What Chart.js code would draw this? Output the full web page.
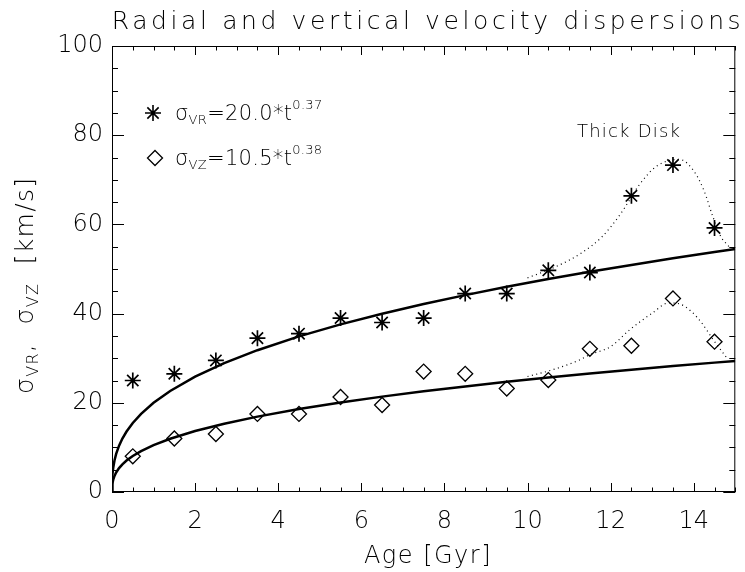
<!DOCTYPE html>
<html>
<head>
<meta charset="utf-8">
<script src="https://cdn.jsdelivr.net/npm/chart.js@4.4.0/dist/chart.umd.min.js"></script>
<style>
  html, body { margin: 0; padding: 0; background: #fff; }
  canvas { display: block; }
</style>
</head>
<body>
<canvas id="grafica" width="745" height="572"></canvas>
<script>
// edades (Gyr) de cada bin
const ages = [0.5, 1.5, 2.5, 3.5, 4.5, 5.5, 6.5, 7.5, 8.5, 9.5, 10.5, 11.5, 12.5, 13.5, 14.5];
const sigmaVR = [25, 26.5, 29.5, 34.5, 35.5, 39, 38, 39, 44.5, 44.5, 49.7, 49.2, 66.4, 73.3, 59.2];
const sigmaVZ = [8, 12, 13, 17.5, 17.5, 21.3, 19.5, 27, 26.5, 23.2, 25.1, 32.1, 32.8, 43.4, 33.7];

// curvas punteadas del disco grueso
const thickAgeVR = [10.0, 10.7, 11.3, 11.8, 12.25, 12.7, 13.1, 13.65, 14.0, 14.25, 14.45, 14.65, 14.85];
const thickVR = [48, 50.6, 53.6, 57.3, 62.5, 69, 73, 74.6, 72, 67.5, 62, 57.3, 55];
const thickAgeVZ = [10.0, 10.6, 11.25, 11.5, 12.0, 12.45, 13.0, 13.4, 13.65, 13.95, 14.2, 14.45, 14.8];
const thickVZ = [25.9, 27.4, 29.6, 30.8, 32.6, 36.3, 40.1, 42.4, 42.2, 40.4, 37.8, 34.4, 30];

// ajustes sigma = A * t^b
const fitAmp = [20.0, 10.5];
const fitExp = [0.37, 0.38];
const fitAges = [0, 0.002, 0.01, 0.03, 0.06, 0.1, 0.17, 0.25, 0.35, 0.5, 0.7, 1, 1.4, 2, 2.7, 3.5, 4.5, 5.5, 6.5, 7.5, 8.5, 9.5, 10.5, 11.5, 12.5, 13.5, 14.5, 15];

const xTicks = [0, 2, 4, 6, 8, 10, 12, 14];
const yTicks = [0, 20, 40, 60, 80, 100];
const xMinorStep = 0.5;
const yMinorStep = 5;

const FAM = '"DejaVu Sans", sans-serif';
const W = 200;

function puntos(xs, ys) {
    return xs.map((x, i) => ({ x: x, y: ys[i] }));
}

function ajuste(k) {
    return fitAges.map(t => ({ x: t, y: fitAmp[k] * Math.pow(t, fitExp[k]) }));
}

function textoRico(ctx, partes, x, y) {
    let cx = x;
    partes.forEach(([txt, size, dy]) => {
        ctx.font = W + " " + size + "px " + FAM;
        ctx.fillText(txt, cx, y + dy);
        cx += ctx.measureText(txt).width;
    });
}

const marcoYTextos = {
    id: "marcoYTextos",
    afterDraw(chart) {
        const ctx = chart.ctx;
        const a = chart.chartArea;
        const x = chart.scales.x, y = chart.scales.y;
        ctx.save();
        ctx.strokeStyle = "#000";
        ctx.fillStyle = "#000";
        ctx.lineWidth = 1;
        ctx.strokeRect(a.left + 0.5, a.top + 0.5, a.right - a.left - 1, a.bottom - a.top - 1);

        // ticks hacia dentro en los cuatro lados
        ctx.beginPath();
        for (let v = x.min; v <= x.max + 1e-9; v += xMinorStep) {
            const px = Math.round(x.getPixelForValue(v)) + 0.5;
            const len = xTicks.includes(v) ? 9 : 4.5;
            ctx.moveTo(px, a.bottom); ctx.lineTo(px, a.bottom - len);
            ctx.moveTo(px, a.top); ctx.lineTo(px, a.top + len);
        }
        for (let v = y.min; v <= y.max + 1e-9; v += yMinorStep) {
            const py = Math.round(y.getPixelForValue(v)) + 0.5;
            const len = yTicks.includes(v) ? 12 : 6;
            ctx.moveTo(a.left, py); ctx.lineTo(a.left + len, py);
            ctx.moveTo(a.right, py); ctx.lineTo(a.right - len, py);
        }
        ctx.stroke();

        // titulo
        ctx.textBaseline = "alphabetic";
        ctx.textAlign = "center";
        ctx.letterSpacing = "3.6px";
        ctx.font = W + " 25px " + FAM;
        ctx.fillText("Radial and vertical velocity dispersions", 428, 29);
        ctx.letterSpacing = "1.5px";
        ctx.font = W + " 24px " + FAM;
        ctx.fillText("Age [Gyr]", 428, 563);
        ctx.letterSpacing = "1.2px";
        ctx.font = W + " 18px " + FAM;
        ctx.textAlign = "left";
        ctx.fillText("Thick Disk", 577, 137);

        // leyenda
        ctx.letterSpacing = "0.3px";
        textoRico(ctx, [["σ", 21, 0], ["VR", 13, 4], ["=20.0*t", 21, 0], ["0.37", 13, -11]], 175, 120);
        textoRico(ctx, [["σ", 21, 0], ["VZ", 13, 4], ["=10.5*t", 21, 0], ["0.38", 13, -11]], 175, 165);

        ctx.lineWidth = 1.6;
        ctx.beginPath();
        const sx = 153, sy = 113, r = 8, d = r * Math.SQRT1_2;
        ctx.moveTo(sx, sy - r); ctx.lineTo(sx, sy + r);
        ctx.moveTo(sx - d, sy - d); ctx.lineTo(sx + d, sy + d);
        ctx.moveTo(sx - d, sy + d); ctx.lineTo(sx + d, sy - d);
        ctx.moveTo(sx - r, sy); ctx.lineTo(sx + r, sy);
        ctx.stroke();
        ctx.lineWidth = 1.3;
        ctx.beginPath();
        const dx = 155, dy = 158, q = 7.5;
        ctx.moveTo(dx, dy - q); ctx.lineTo(dx + q, dy); ctx.lineTo(dx, dy + q);
        ctx.lineTo(dx - q, dy); ctx.closePath();
        ctx.stroke();

        // titulo eje y
        ctx.lineWidth = 1;
        ctx.translate(33, 394);
        ctx.rotate(-Math.PI / 2);
        ctx.letterSpacing = "1.3px";
        textoRico(ctx, [["σ", 25, 0], ["VR", 16, 5], [",  σ", 25, 0], ["VZ", 16, 5], ["  [km/s]", 25, 0]], 0, 0);
        ctx.restore();
    }
};

const ctx = document.getElementById("grafica").getContext("2d");

new Chart(ctx, {
    type: "scatter",
    data: {
        datasets: [
            { data: ajuste(0), showLine: true, borderColor: "#000", borderWidth: 2.5, pointRadius: 0 },
            { data: ajuste(1), showLine: true, borderColor: "#000", borderWidth: 2.5, pointRadius: 0 },
            { data: puntos(thickAgeVR, thickVR), showLine: true, borderColor: "#000", borderWidth: 1.2,
              borderDash: [1, 3.5], pointRadius: 0, cubicInterpolationMode: "monotone" },
            { data: puntos(thickAgeVZ, thickVZ), showLine: true, borderColor: "#000", borderWidth: 1.2,
              borderDash: [1, 3.5], pointRadius: 0, cubicInterpolationMode: "monotone" },
            { data: puntos(ages, sigmaVR), pointStyle: "star", pointRadius: 8, borderColor: "#000",
              borderWidth: 1.7, backgroundColor: "#000" },
            { data: puntos(ages, sigmaVZ), pointStyle: "rectRot", pointRadius: 7.5, borderColor: "#000",
              borderWidth: 1.3, backgroundColor: "rgba(0,0,0,0)" }
        ]
    },
    options: {
        responsive: false,
        animation: false,
        events: [],
        layout: { padding: { top: 46, right: 2, left: 0, bottom: 0 } },
        plugins: {
            legend: { display: false },
            tooltip: { enabled: false }
        },
        scales: {
            x: {
                type: "linear", min: 0, max: 15,
                grid: { display: false, drawTicks: false },
                border: { display: false },
                ticks: { color: "#000", padding: 15, font: { family: FAM, size: 24, weight: W } },
                afterBuildTicks: s => { s.ticks = xTicks.map(v => ({ value: v })); },
                afterFit: s => { s.height = 80; }
            },
            y: {
                type: "linear", min: 0, max: 100,
                grid: { display: false, drawTicks: false },
                border: { display: false },
                ticks: { color: "#000", padding: 9, font: { family: FAM, size: 24, weight: W } },
                afterBuildTicks: s => { s.ticks = yTicks.map(v => ({ value: v })); },
                afterFit: s => { s.width = 112; }
            }
        }
    },
    plugins: [marcoYTextos]
});
</script>
</body>
</html>
